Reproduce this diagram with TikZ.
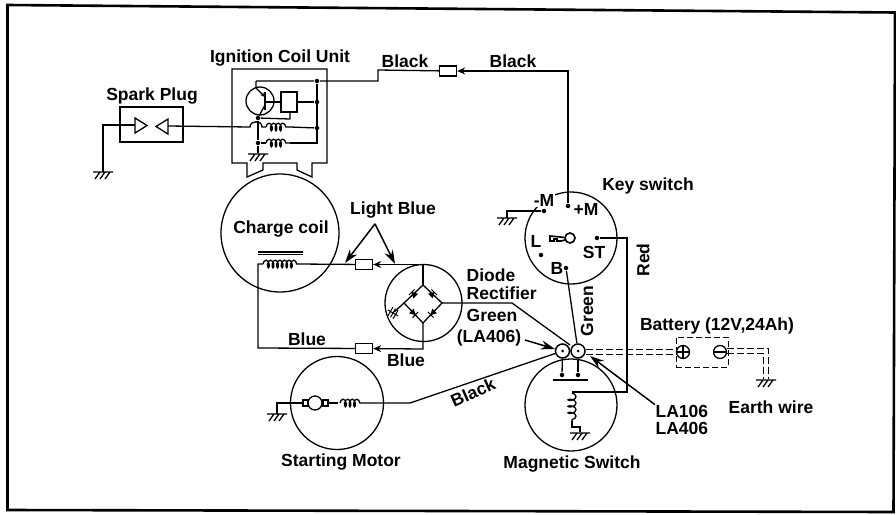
\documentclass[tikz,border=0pt]{standalone}
\usepackage{fontspec}
\setmainfont{Liberation Sans}
\usepackage{tikz}
\usetikzlibrary{arrows.meta,decorations.pathmorphing,positioning}

\begin{document}
\begin{tikzpicture}[
                    x=1pt, y=-1pt,
                    line width=1.3pt,
                    lbl/.style={font=\bfseries\fontsize{17.5}{19}\selectfont, inner sep=0pt, align=left},
                    round/.style={circle, draw, minimum size=92pt, inner sep=0pt},
                    dot/.style={circle, fill=black, minimum size=4.5pt, inner sep=0pt},
                    plug/.style={rectangle, draw, fill=white, minimum width=17pt, minimum height=10pt, inner sep=0pt},
                    term/.style={circle, draw, fill=white, line width=1.5pt, minimum size=14pt, inner sep=0pt},
                    tip/.style={-{Stealth[length=8pt,width=7pt]}},
                    bigtip/.style={-{Stealth[length=14pt,width=9pt]}, line width=1.5pt},
                    earthline/.style={line width=1pt, dash pattern=on 7pt off 3pt},
                    coilwire/.style={decorate, decoration={coil, aspect=0.5, amplitude=3.8pt, segment length=4.6pt}},
                    earth/.pic={\draw (-10,0) -- (10,0) (-3,0) -- (-8,7) (2,0) -- (-3,7) (7,0) -- (2,7);},
                    smallearth/.pic={\draw[line width=1pt] (-5,0) -- (5,0) (-5,-3) -- (5,-3) (-5,3) -- (5,3) (0,-6) -- (0,6);},
                    diode/.pic={\draw[fill=black, line width=1pt] (-2.5,-2.5) -- (-2.5,2.5) -- (2,0) -- cycle (2.5,-4) -- (2.5,4);},
                ]
                \useasboundingbox (0,0) rectangle (896,514);
                \draw[line width=2.6pt] (7.5,5) -- (895,12.5) -- (893.5,512) -- (7.5,510) -- cycle;

                \node[lbl] (sparklabel) at (152,96) {Spark Plug};
                \node[lbl] (coillabel) at (280,58) {Ignition Coil Unit};
                \node[lbl] (black1) at (405,61) {Black};
                \node[lbl] (black2) at (513,61) {Black};
                \node[lbl] (keylabel) at (648,186) {Key switch};
                \node[lbl] (lightblue) at (393,210) {Light Blue};
                \node[lbl] (chargelabel) at (281,229) {Charge coil};
                \node[lbl] (diodelabel) [anchor=west] at (466,284) {Diode\\[-1pt]Rectifier};
                \node[lbl] (green1) [anchor=west] at (466,315) {Green};
                \node[lbl] (la406a) at (489,338) {(LA406)};
                \node[lbl] (blue1) at (307,339) {Blue};
                \node[lbl] (blue2) at (406,360) {Blue};
                \node[lbl] (black3) [rotate=24] at (473,392) {Black};
                \node[lbl] (red) [rotate=90] at (643,260) {Red};
                \node[lbl] (green2) [rotate=90] at (587,311) {Green};
                \node[lbl] (batterylabel) at (717,326) {Battery (12V,24Ah)};
                \node[lbl] (earthlabel) at (771,407) {Earth wire};
                \node[lbl] (la106) [anchor=west, align=left] at (655,420) {LA106\\[-2pt]LA406};
                \node[lbl] (motorlabel) at (341,462) {Starting Motor};
                \node[lbl] (switchlabel) at (572,464) {Magnetic Switch};

                \node[draw, minimum width=63pt, minimum height=35pt, inner sep=0pt] (spark) at (151.5,124.5) {};
                \coordinate (sparkl) at (135,125);
                \coordinate (sparkr) at (168,126);
                \draw (135,118) -- (147,125.5) -- (135,133) -- cycle;
                \draw (168,119) -- (156,126.5) -- (168,134) -- cycle;
                \coordinate (sparkearth) at (103,172);
                \draw (sparkl) -- (sparkearth |- sparkl) -- (sparkearth);
                \pic at (sparkearth) {earth};

                \draw (232,69) -- (327,69) -- (327,163) -- (312,163) -- (312,177) -- (297,170) -- (297,163) -- (263,163) -- (263,170) -- (247,177) -- (247,163) -- (232,163) -- cycle;
                \node[circle, draw, minimum size=28pt, inner sep=0pt] (transistor) at (260,101) {};
                \node[draw, minimum width=16pt, minimum height=20pt, inner sep=0pt] (igniter) at (289,102) {};
                \node[dot] (rail1) at (317,81) {};
                \node[dot] (rail2) at (317,102) {};
                \node[dot] (rail3) at (317,128) {};
                \node[dot] (coilnode) at (258,143) {};
                \node[dot] (emitnode) at (258,118) {};
                \draw (rail1) -- (317,143) -- (290,143);
                \draw (igniter) -- (rail2);
                \draw (igniter.west) -- (265,102);
                \draw (265,92) -- (265,110);
                \draw (265,105) -- (emitnode);
                \draw[-{Stealth[length=5pt,width=4pt]}] (256,81) -- (256,88) -- (265,97);
                \draw (290,112) -- (290,119) -- (emitnode);
                \draw (emitnode) -- (coilnode) -- (258,153);
                \pic at (258,154) {earth};
                \draw (sparkr) -- (250,127) .. controls (250,120) and (262,120) .. (262,127) -- (266,127);
                \draw[coilwire] (266,127) -- (290,127);
                \draw (290,127) -- (rail3);
                \draw (coilnode) -- (266,143);
                \draw[coilwire] (266,143) -- (290,143);

                \node[plug] (plugblack) at (448,71) {};
                \node[round] (keyswitch) at (571,238) {};
                \node[lbl, fill=white, inner sep=1pt] (minusm) at (544,200) {-M};
                \node[lbl] (plusm) at (586,209) {+M};
                \node[lbl] (lkey) at (536,241) {L};
                \node[lbl] (stkey) at (594,252) {ST};
                \node[lbl] (bkey) at (557,268) {B};
                \node[dot] (dotminus) at (544,211) {};
                \node[dot] (dotplus) at (568,206) {};
                \node[dot] (dotl) at (541,255) {};
                \node[dot] (dotst) at (597,238) {};
                \node[dot] (dotb) at (566,268) {};
                \draw (256,81) -- (rail1) -- (378,81) -- (378,70) -- (plugblack);
                \draw[tip] (dotplus) -- (568,71) -- (plugblack);
                \node[circle, draw, line width=1.6pt, minimum size=10pt, inner sep=0pt] (keybow) at (570,238) {};
                \draw[line width=1.6pt] (keybow) -- (550,236) -- (550,241) -- (554,241) -- (554,239) -- (557,239) -- (557,241) -- (561,241) -- (565,240);
                \draw (dotminus) -- (507,211) -- (507,218);
                \pic at (507,218) {earth};

                \node[round, minimum size=118pt] (chargecoil) at (280,233) {};
                \draw (258,252) -- (303,252) (258,254.5) -- (303,254.5);
                \node[plug] (plugup) at (364,264.5) {};
                \node[plug] (plugdown) at (364,348.5) {};
                \coordinate (coilleft) at (263,264);
                \coordinate (coilright) at (298,264);
                \draw[coilwire] (coilleft) -- (coilright);
                \node[round, minimum size=77pt] (rectifier) at (423.5,303) {};
                \coordinate (bridgetop) at (423,285);
                \coordinate (bridgeright) at (442,303);
                \coordinate (bridgebottom) at (423,323);
                \coordinate (bridgeleft) at (404,303);
                \draw (bridgetop) -- (bridgeright) -- (bridgebottom) -- (bridgeleft) -- cycle;
                \pic[rotate=135] at (413.5,294) {diode};
                \pic[rotate=45] at (432.5,294) {diode};
                \pic[rotate=-45] at (413.5,313) {diode};
                \pic[rotate=-135] at (432.5,313) {diode};
                \draw (bridgeleft) -- (394,312);
                \pic[rotate=60] at (393,313) {smallearth};
                \draw[tip] (423,265) -- (bridgetop |- plugup) -- (plugup);
                \draw (bridgetop) -- (423,265);
                \draw (coilright) -- (plugup);
                \draw (coilleft) -- (258,264) -- (258,348) -- (plugdown);
                \draw[tip] (bridgebottom) -- (423,349) -- (plugdown);
                \draw[bigtip] (lightblue.south) ++(-18,5) coordinate (lbfork) -- (345,263);
                \draw[bigtip] (lbfork) -- (395,264);

                \node[round] (magswitch) at (571,405) {};
                \coordinate (greenend) at (570,345);
                \draw (bridgeright) -- (512,303) -- (greenend);
                \node[term] (termleft) at (562.5,351) {};
                \node[term] (termright) at (578,351) {};
                \node[dot, minimum size=3pt] (innerleft) at (562.5,351) {};
                \node[dot, minimum size=3pt] (innerright) at (578,351) {};
                \node[dot] (legleft) at (562,375) {};
                \node[dot] (legright) at (578,375) {};
                \draw (termleft) -- (legleft);
                \draw (termright) -- (legright);
                \draw (553,380) -- (588,380);
                \draw (dotst) -- (627,238) -- (627,392) -- (572,392);
                \draw[decorate, decoration={coil, aspect=0.5, amplitude=4pt, segment length=6.5pt}] (572,393) -- (572,421);
                \draw (572,421) -- (572,427) -- (580,427) -- (580,432);
                \pic at (580,433) {earth};
                \draw (dotb) -- (termright);

                \node[round, minimum size=93pt] (motor) at (337,403) {};
                \node[circle, draw, minimum size=14pt, inner sep=0pt] (armature) at (315,403) {};
                \node[draw, minimum width=5pt, minimum height=6pt, inner sep=0pt] (brushl) at (305.5,403) {};
                \node[draw, minimum width=5pt, minimum height=6pt, inner sep=0pt] (brushr) at (325.5,403) {};
                \coordinate (motorearth) at (277,414);
                \draw (brushl) -- (motorearth |- brushl) -- (motorearth);
                \pic at (motorearth) {earth};
                \draw (brushr) -- (338,403);
                \draw[coilwire] (340,403) -- (364,403);
                \draw (364,403) -- (410,403) -- (termleft);

                \node[draw, line width=1pt, dash pattern=on 6pt off 3pt, minimum width=52pt, minimum height=30pt, inner sep=0pt] (battery) at (702,352) {};
                \node[circle, draw, fill=white, minimum size=13pt, inner sep=0pt] (batplus) at (683,352) {};
                \node[circle, draw, fill=white, minimum size=13pt, inner sep=0pt] (batminus) at (720,352) {};
                \draw (batplus.west) -- (batplus.east) (batplus.north) -- (batplus.south);
                \draw (batminus.west) -- (batminus.east);
                \draw[earthline] (termright.east |- 0,349) -- (batplus.west |- 0,349);
                \draw[earthline] (termright.east |- 0,354) -- (batplus.west |- 0,354);
                \draw[earthline] (batminus.east |- 0,348) -- (768,348) -- (768,379);
                \draw[earthline] (batminus.east |- 0,353) -- (763,353) -- (763,379);
                \pic at (766,380) {earth};

                \draw[bigtip] (525,340) -- (555,349);
                \draw[bigtip] (la106.north west) -- (590,356);
            \end{tikzpicture}
\end{document}
